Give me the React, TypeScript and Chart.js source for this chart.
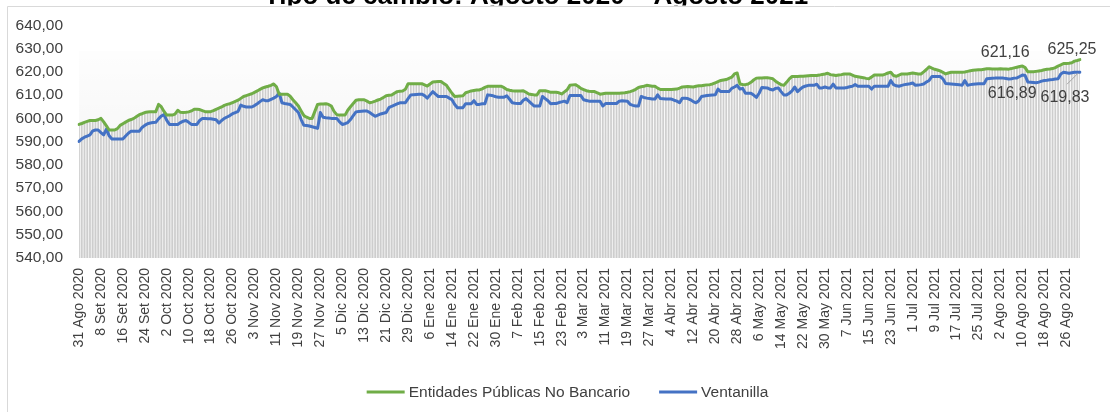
import React, { useEffect, useRef } from 'react';
import { Chart, registerables } from 'chart.js';

Chart.register(...registerables);

const FONT = '"Liberation Sans", Arial, sans-serif';
const TITLE = 'Tipo de cambio: Agosto 2020 – Agosto 2021';
const SERIES_NAMES = ['Entidades Públicas No Bancario', 'Ventanilla'];
const SERIES_COLORS = ['#70ad47', '#4472c4'];
const MESES = ['Ene', 'Feb', 'Mar', 'Abr', 'May', 'Jun', 'Jul', 'Ago', 'Set', 'Oct', 'Nov', 'Dic'];

const TICK_LABELS = [
  '31 Ago 2020', '8 Set 2020', '16 Set 2020', '24 Set 2020', '2 Oct 2020', '10 Oct 2020',
  '18 Oct 2020', '26 Oct 2020', '3 Nov 2020', '11 Nov 2020', '19 Nov 2020', '27 Nov 2020',
  '5 Dic 2020', '13 Dic 2020', '21 Dic 2020', '29 Dic 2020', '6 Ene 2021', '14 Ene 2021',
  '22 Ene 2021', '30 Ene 2021', '7 Feb 2021', '15 Feb 2021', '23 Feb 2021', '3 Mar 2021',
  '11 Mar 2021', '19 Mar 2021', '27 Mar 2021', '4 Abr 2021', '12 Abr 2021', '20 Abr 2021',
  '28 Abr 2021', '6 May 2021', '14 May 2021', '22 May 2021', '30 May 2021', '7 Jun 2021',
  '15 Jun 2021', '23 Jun 2021', '1 Jul 2021', '9 Jul 2021', '17 Jul 2021', '25 Jul 2021',
  '2 Ago 2021', '10 Ago 2021', '18 Ago 2021', '26 Ago 2021',
];
const TICK_EVERY = 8;

// Entidades Públicas No Bancario (daily, 31 Ago 2020 – 31 Ago 2021)
const GREEN = [
  597.4, 597.8, 598.3, 598.7, 599.1, 599.1, 599.1,
  599.4, 600.0, 598.5, 596.8, 595.0, 595.0, 595.0,
  595.6, 597.0, 597.7, 598.4, 599.1, 599.5, 600.0,
  600.8, 601.6, 602.0, 602.5, 602.7, 602.8, 602.8,
  602.9, 606.0, 605.0, 603.0, 601.4, 601.4, 601.4,
  601.8, 603.5, 602.6, 602.5, 602.6, 602.8, 603.2,
  603.9, 603.9, 603.8, 603.3, 602.9, 602.9, 602.9,
  603.3, 603.9, 604.4, 604.9, 605.6, 606.0, 606.3,
  606.8, 607.3, 607.8, 608.6, 609.4, 609.8, 610.2,
  610.6, 611.2, 611.8, 612.5, 613.1, 613.5, 613.8,
  614.2, 614.8, 613.6, 610.4, 610.4, 610.4, 610.4,
  609.5, 608.0, 606.7, 605.3, 603.2, 601.2, 600.5,
  600.0, 600.0, 603.0, 606.0, 606.2, 606.2, 606.3,
  606.0, 605.3, 603.0, 601.6, 601.4, 601.4, 601.4,
  603.5, 605.0, 606.4, 607.8, 608.0, 608.0, 608.0,
  607.4, 606.7, 607.0, 607.4, 607.9, 608.3, 609.0,
  609.7, 609.9, 610.0, 610.8, 611.5, 611.7, 611.8,
  612.5, 614.9, 614.9, 614.9, 614.9, 614.9, 614.9,
  614.4, 613.9, 614.8, 615.6, 615.7, 615.8, 615.8,
  615.0, 614.2, 612.5, 610.8, 609.4, 609.5, 609.6,
  609.7, 611.0, 611.4, 611.8, 612.0, 612.2, 612.2,
  612.7, 613.3, 613.8, 613.8, 613.8, 613.8, 613.8,
  613.8, 613.2, 612.4, 612.1, 611.9, 611.8, 611.8,
  611.8, 611.9, 611.2, 610.5, 610.3, 610.1, 610.1,
  611.9, 611.9, 611.9, 611.6, 611.2, 611.2, 611.2,
  611.0, 610.5, 611.4, 612.3, 614.2, 614.4, 614.5,
  613.8, 612.9, 612.4, 611.9, 611.7, 611.6, 611.5,
  611.0, 610.4, 610.6, 610.8, 610.8, 610.8, 610.8,
  610.8, 610.8, 610.9, 611.0, 611.2, 611.5, 611.9,
  612.5, 613.3, 613.6, 613.8, 614.2, 614.0, 613.8,
  613.8, 613.0, 612.4, 612.4, 612.4, 612.4, 612.4,
  612.5, 612.6, 613.0, 613.5, 613.6, 613.7, 613.6,
  613.5, 613.8, 614.0, 614.0, 614.2, 614.4, 614.5,
  614.8, 615.3, 615.8, 616.3, 616.5, 616.7, 617.2,
  617.7, 619.1, 619.5, 614.8, 614.6, 614.5, 614.8,
  615.5, 616.5, 617.3, 617.4, 617.4, 617.5, 617.5,
  617.3, 617.0, 616.0, 615.2, 614.5, 614.2, 615.5,
  617.0, 618.0, 618.0, 618.0, 618.1, 618.1, 618.2,
  618.3, 618.4, 618.4, 618.4, 618.6, 618.9, 619.1,
  619.4, 618.8, 618.6, 618.4, 618.6, 618.8, 619.1,
  619.1, 619.1, 618.6, 618.1, 617.9, 617.7, 617.5,
  617.2, 617.0, 617.8, 618.6, 618.6, 618.6, 618.6,
  619.0, 619.5, 619.8, 618.4, 618.1, 618.6, 619.1,
  619.1, 619.1, 619.3, 619.5, 619.3, 619.1, 619.1,
  620.0, 621.0, 622.2, 621.6, 621.1, 620.8, 620.4,
  619.8, 619.1, 619.5, 619.8, 619.8, 619.8, 619.8,
  619.8, 619.9, 620.2, 620.5, 620.7, 620.8, 620.9,
  620.9, 621.1, 621.3, 621.3, 621.2, 621.2, 621.2,
  621.3, 621.2, 621.2, 621.16, 621.4, 621.7, 622.0,
  622.3, 622.5, 621.8, 620.0, 620.0, 620.0, 620.2,
  620.4, 620.6, 620.9, 621.1, 621.2, 621.4, 621.8,
  622.5, 623.0, 623.6, 623.6, 623.7, 623.9, 624.6,
  624.9, 625.25,
];

// Ventanilla (daily, 31 Ago 2020 – 31 Ago 2021)
const BLUE = [
  590.1, 591.2, 591.9, 592.4, 592.9, 594.6, 595.0,
  595.0, 593.9, 592.9, 595.4, 592.5, 591.1, 591.1,
  591.1, 591.1, 591.1, 592.4, 593.6, 594.5, 594.5,
  594.5, 594.5, 596.1, 597.0, 597.7, 598.0, 598.2,
  598.3, 599.8, 601.0, 601.6, 599.1, 597.4, 597.4,
  597.4, 597.4, 598.2, 598.8, 599.1, 598.3, 597.4,
  597.4, 597.4, 599.1, 600.0, 599.9, 599.8, 599.8,
  599.6, 599.4, 598.0, 599.1, 600.0, 600.6, 601.2,
  602.0, 602.5, 603.0, 605.7, 605.2, 604.9, 604.9,
  604.9, 605.5, 606.3, 607.2, 608.0, 607.6, 607.6,
  608.2, 608.7, 609.4, 610.8, 606.7, 606.4, 606.2,
  606.0, 604.9, 603.7, 602.5, 599.5, 597.0, 596.9,
  596.7, 596.4, 596.1, 595.7, 602.5, 600.5, 600.3,
  600.2, 600.0, 600.0, 600.0, 598.5, 597.4, 597.7,
  598.2, 599.5, 601.2, 602.8, 603.0, 603.1, 603.2,
  603.2, 602.5, 601.7, 600.9, 601.4, 601.9, 602.2,
  602.5, 604.6, 605.2, 605.7, 606.2, 606.7, 606.7,
  606.7, 608.5, 610.1, 610.2, 610.3, 610.4, 610.4,
  609.8, 608.7, 610.1, 611.5, 610.4, 609.4, 609.4,
  609.4, 609.4, 608.7, 608.0, 606.0, 604.6, 604.6,
  604.6, 606.3, 606.3, 606.3, 607.6, 606.0, 606.0,
  606.3, 606.3, 610.1, 609.9, 609.7, 609.3, 609.1,
  609.1, 609.1, 609.7, 608.2, 606.7, 606.5, 606.4,
  606.4, 607.8, 608.5, 607.4, 606.3, 605.3, 605.3,
  605.3, 609.4, 608.5, 607.6, 606.3, 606.4, 606.4,
  606.8, 607.1, 607.4, 606.7, 609.8, 609.8, 609.8,
  609.8, 609.8, 608.0, 607.7, 607.4, 607.4, 607.4,
  607.4, 607.4, 605.3, 606.4, 606.4, 606.4, 606.4,
  606.4, 607.4, 607.6, 607.5, 607.4, 606.0, 605.6,
  605.3, 605.3, 609.4, 609.0, 608.7, 608.5, 608.3,
  608.3, 610.1, 608.5, 608.4, 608.3, 608.3, 608.3,
  607.8, 607.4, 606.7, 608.7, 608.6, 608.5, 608.0,
  607.2, 606.7, 607.6, 609.4, 609.6, 609.8, 609.9,
  610.0, 610.1, 612.6, 611.5, 611.5, 611.5, 611.5,
  612.9, 613.5, 614.2, 612.6, 612.9, 610.8, 610.8,
  610.8, 610.0, 609.0, 610.8, 613.3, 613.2, 613.1,
  612.5, 612.2, 612.9, 613.1, 611.5, 610.1, 610.1,
  610.8, 611.8, 613.5, 611.5, 612.6, 613.5, 613.9,
  614.2, 614.2, 614.2, 614.7, 613.1, 613.1, 613.5,
  613.1, 613.1, 614.7, 613.1, 613.1, 613.1, 613.1,
  613.3, 613.6, 613.8, 614.5, 613.8, 613.8, 613.8,
  613.8, 613.8, 612.6, 613.8, 613.8, 613.8, 613.8,
  613.8, 613.8, 616.3, 614.5, 614.0, 613.8, 614.2,
  614.5, 614.7, 614.9, 615.2, 614.2, 614.3, 614.5,
  614.8, 615.6, 616.3, 618.0, 618.0, 618.0, 618.0,
  617.0, 615.0, 614.9, 614.8, 614.7, 614.6, 614.5,
  614.2, 616.3, 614.2, 614.5, 614.7, 614.8, 614.9,
  614.9, 614.9, 617.0, 617.1, 617.2, 617.3, 617.3,
  617.3, 617.3, 617.1, 616.89, 617.0, 617.3, 617.4,
  618.0, 618.6, 618.4, 615.6, 615.5, 615.4, 615.3,
  615.6, 616.0, 616.3, 616.4, 616.6, 616.7, 616.9,
  617.0, 619.1, 619.8, 619.6, 619.4, 619.6, 619.8,
  619.8, 619.83,
];

const Y_MIN = 540;
const Y_MAX = 640;
const Y_STEP = 10;
const ANNOTATED = [339, 365];

const CATEGORIES = GREEN.map((_, i) => {
  const d = new Date(2020, 7, 31 + i);
  return `${d.getDate()} ${MESES[d.getMonth()]} ${d.getFullYear()}`;
});

const fmt = (v: number) => v.toFixed(2).replace('.', ',');

const decorPlugin = {
  id: 'decor',
  beforeDraw(chart: any) {
    const { ctx, width, height } = chart;
    ctx.save();
    ctx.fillStyle = '#ffffff';
    ctx.fillRect(0, 0, width, height);
    ctx.strokeStyle = '#d9d9d9';
    ctx.lineWidth = 1;
    ctx.beginPath();
    ctx.moveTo(7.5, height);
    ctx.lineTo(7.5, 6.5);
    ctx.lineTo(width, 6.5);
    ctx.stroke();
    ctx.beginPath();
    ctx.rect(0, 0, width, 5.5);
    ctx.clip();
    ctx.fillStyle = '#000000';
    ctx.font = `bold 26px ${FONT}`;
    ctx.textAlign = 'center';
    ctx.textBaseline = 'alphabetic';
    ctx.fillText(TITLE, 536, 3.5);
    ctx.restore();
  },
  beforeDatasetsDraw(chart: any) {
    const { ctx, chartArea, scales } = chart;
    const y0 = scales.y.getPixelForValue(629);
    const g = ctx.createLinearGradient(0, y0, 0, chartArea.bottom);
    g.addColorStop(0, 'rgba(0,0,0,0.006)');
    g.addColorStop(0.3, 'rgba(0,0,0,0.025)');
    g.addColorStop(1, 'rgba(0,0,0,0.065)');
    ctx.save();
    ctx.fillStyle = g;
    ctx.fillRect(chartArea.left, y0, chartArea.right - chartArea.left, chartArea.bottom - y0);
    ctx.restore();
  },
  afterDatasetsDraw(chart: any) {
    const { ctx } = chart;
    const gMeta = chart.getDatasetMeta(0);
    const bMeta = chart.getDatasetMeta(1);
    ctx.save();
    ctx.font = `16px ${FONT}`;
    ctx.fillStyle = '#404040';
    ctx.textAlign = 'center';
    ctx.textBaseline = 'middle';
    const [a, b] = ANNOTATED;
    let p = gMeta.data[a];
    ctx.fillText(fmt(GREEN[a]), p.x - 3.5, p.y - 16.5);
    p = bMeta.data[a];
    ctx.fillText(fmt(BLUE[a]), p.x + 3.5, p.y + 15);
    p = gMeta.data[b];
    ctx.fillText(fmt(GREEN[b]), p.x - 8, p.y - 10);
    p = bMeta.data[b];
    ctx.fillText(fmt(BLUE[b]), p.x - 15, p.y + 25);
    ctx.strokeStyle = '#a6a6a6';
    ctx.lineWidth = 1;
    ctx.beginPath();
    ctx.moveTo(p.x - 13, p.y + 12);
    ctx.lineTo(p.x - 2, p.y + 1);
    ctx.stroke();
    ctx.restore();
  },
  afterDraw(chart: any) {
    const { ctx } = chart;
    ctx.save();
    ctx.font = `15.5px ${FONT}`;
    ctx.textBaseline = 'middle';
    ctx.textAlign = 'left';
    const boxW = 38;
    const gap = 4;
    const itemGap = 29;
    const widths = SERIES_NAMES.map((n) => ctx.measureText(n).width);
    const total = widths.reduce((s, w) => s + boxW + gap + w, 0) + itemGap;
    let x = 567.5 - total / 2;
    const y = 392;
    SERIES_NAMES.forEach((name, i) => {
      ctx.strokeStyle = SERIES_COLORS[i];
      ctx.lineWidth = 3;
      ctx.beginPath();
      ctx.moveTo(x, y);
      ctx.lineTo(x + boxW, y);
      ctx.stroke();
      ctx.fillStyle = '#404040';
      ctx.fillText(name, x + boxW + gap, y + 1);
      x += boxW + gap + widths[i] + itemGap;
    });
    ctx.restore();
  },
};

export default function App() {
  const ref = useRef<HTMLCanvasElement | null>(null);

  useEffect(() => {
    if (!ref.current) return;
    const chart = new Chart(ref.current, {
      type: 'line',
      data: {
        labels: CATEGORIES,
        datasets: [
          {
            type: 'line',
            label: SERIES_NAMES[0],
            data: GREEN,
            borderColor: SERIES_COLORS[0],
            backgroundColor: SERIES_COLORS[0],
            borderWidth: 3,
            pointRadius: 0,
            tension: 0,
            borderJoinStyle: 'round',
            borderCapStyle: 'round',
            order: 1,
          },
          {
            type: 'line',
            label: SERIES_NAMES[1],
            data: BLUE,
            borderColor: SERIES_COLORS[1],
            backgroundColor: SERIES_COLORS[1],
            borderWidth: 3,
            pointRadius: 0,
            tension: 0,
            borderJoinStyle: 'round',
            borderCapStyle: 'round',
            order: 2,
          },
          {
            type: 'bar',
            label: 'drop',
            data: GREEN,
            backgroundColor: '#cdcdcd',
            barThickness: 1,
            order: 3,
          },
        ],
      } as any,
      options: {
        animation: false,
        responsive: false,
        devicePixelRatio: 1,
        events: [],
        layout: { padding: { left: 0, right: 30, top: 16, bottom: 54 } },
        plugins: {
          legend: { display: false },
          title: { display: false },
          tooltip: { enabled: false },
        },
        scales: {
          x: {
            type: 'category',
            offset: false,
            grid: { display: false, drawTicks: false },
            border: { display: false },
            afterFit: (axis: any) => {
              axis.height = 100;
            },
            ticks: {
              autoSkip: false,
              maxRotation: 90,
              minRotation: 90,
              padding: 10,
              color: '#404040',
              font: { family: FONT, size: 14 },
              callback: (_v: any, i: number) => (i % TICK_EVERY === 0 ? TICK_LABELS[i / TICK_EVERY] : ''),
            },
          },
          y: {
            type: 'linear',
            min: Y_MIN,
            max: Y_MAX,
            grid: { display: false, drawTicks: false },
            border: { display: false },
            afterFit: (axis: any) => {
              axis.width = 79;
            },
            ticks: {
              stepSize: Y_STEP,
              padding: 16,
              color: '#404040',
              font: { family: FONT, size: 15.5 },
              callback: (v: any) => fmt(Number(v)),
            },
          },
        },
      } as any,
      plugins: [decorPlugin],
    });
    return () => chart.destroy();
  }, []);

  return (
    <div style={{ position: 'fixed', left: 0, top: 0, width: 1110, height: 412 }}>
      <canvas ref={ref} width={1110} height={412} style={{ width: 1110, height: 412, display: 'block' }} />
    </div>
  );
}
